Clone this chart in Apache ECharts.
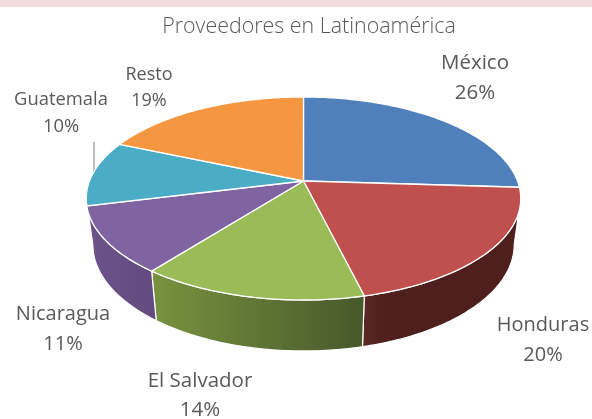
<!DOCTYPE html>
<html><head><meta charset="utf-8">
<style>html,body{margin:0;padding:0;background:#fff}#c{width:592px;height:419px}</style>
<script src="https://cdn.jsdelivr.net/npm/echarts@6/dist/echarts.min.js"></script>
</head><body><div id="c"></div>
<script>
const titleText = 'Proveedores en Latinoamérica';
const categories = ['México','Honduras','El Salvador','Nicaragua','Guatemala','Resto'];
const values = [26, 20.2, 14.3, 10.6, 10.4, 18.5];
const topColors = ['#4f80bb','#bf504d','#9bbb59','#8064a2','#4bacc6','#f59641'];
const wallStops = [[[0,'#3a5f8c'],[1,'#3a5f8c']],[[0,'#5c2824'],[0.15,'#4e1f1d'],[1,'#4e1f1d']],[[0,'#78933f'],[1,'#47582a']],[[0,'#6c5389'],[1,'#624a7f']],[[0,'#4bacc6'],[1,'#4bacc6']],[[0,'#f79646'],[1,'#f79646']]];
const labelCenters = [[475,78],[543,340],[200,396],[63,329],[61,113],[149,88]];
const labelSizes = [20.5,20,20.5,20,18.4,18];
const labelLines = [30,30,29,30,27,26];

const G = {cx:303.5, cy:181, R:214, Ry:98.5, k:0.1724, sx:0.97, sy:1.05, d:45};
const total = values.reduce((a,b)=>a+b,0);
const ranges = []; { let acc=0; values.forEach(v=>{ const a0=acc/total*2*Math.PI; acc+=v; ranges.push([a0,acc/total*2*Math.PI]); }); }
function rimTop(t){ const u=Math.sin(t), v=-Math.cos(t), w=1-G.k*v; return [G.cx+G.R*u/w, G.cy+G.Ry*v/w]; }
function rimBot(t){ const p=rimTop(t); return [G.cx+(p[0]-G.cx)*G.sx, G.cy+(p[1]-G.cy)*G.sy+G.d]; }
const tA = Math.acos(-G.k), tB = 2*Math.PI - tA;
function arc(f,a,b){ const n=Math.max(2,Math.ceil(Math.abs(b-a)*60)), o=[]; for(let i=0;i<=n;i++) o.push(f(a+(b-a)*i/n)); return o; }
const rows = categories.map((c,i)=>[i,values[i]]);

function wallItem(params){
  const i=params.dataIndex, a=Math.max(ranges[i][0],tA), b=Math.min(ranges[i][1],tB);
  if(b<=a) return {type:'group',children:[]};
  const pts=arc(rimTop,a,b).concat(arc(rimBot,b,a));
  return {type:'polygon',shape:{points:pts},style:{
    fill:new echarts.graphic.LinearGradient(0,0,1,0,wallStops[i].map(s=>({offset:s[0],color:s[1]}))),
    stroke:'#fff',lineWidth:1.2}};
}
function topItem(params){
  const i=params.dataIndex, r=ranges[i];
  return {type:'polygon',shape:{points:[[G.cx,G.cy]].concat(arc(rimTop,r[0],r[1]))},style:{fill:topColors[i],stroke:'#fff',lineWidth:1.3}};
}
function labelItem(params){
  const i=params.dataIndex, pct=Math.round(values[i]/total*100);
  return {type:'text',x:labelCenters[i][0],y:labelCenters[i][1],style:{
    text:categories[i]+'\n'+pct+'%',align:'center',verticalAlign:'middle',
    fontFamily:'Open Sans',fontSize:labelSizes[i],lineHeight:labelLines[i],fill:'#595959'}};
}
const chart=echarts.init(document.getElementById('c'),null,{renderer:'canvas'});
chart.setOption({
  animation:false,
  backgroundColor:'#fff',
  title:{text:titleText,left:304,top:11,textAlign:'center',textStyle:{fontFamily:'Open Sans',fontWeight:300,fontSize:21.4,color:'#595959'}},
  graphic:[
    {type:'rect',shape:{x:0,y:0,width:592,height:7},style:{fill:'#f2dcdb'},silent:true},
    {type:'line',shape:{x1:94,y1:142,x2:94,y2:173},style:{stroke:'#a6a6a6',lineWidth:1.5},silent:true}
  ],
  series:[
    {type:'custom',coordinateSystem:'none',renderItem:wallItem,data:rows,silent:true,z:1},
    {type:'custom',coordinateSystem:'none',renderItem:topItem,data:rows,silent:true,z:2},
    {type:'custom',coordinateSystem:'none',renderItem:labelItem,data:rows,silent:true,z:3}
  ]
});
</script></body></html>
